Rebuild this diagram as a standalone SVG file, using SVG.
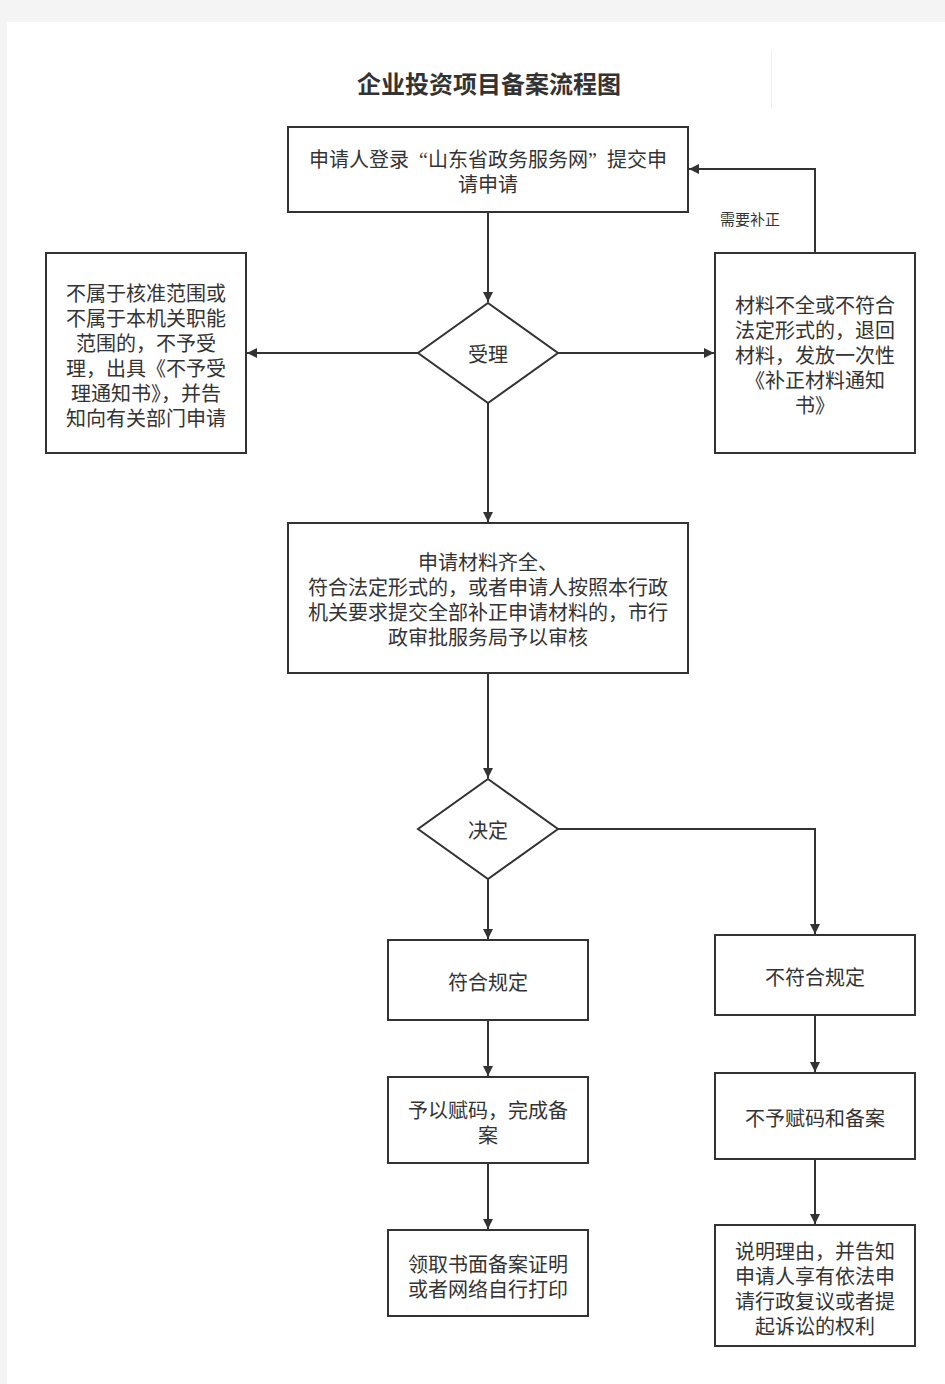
<svg xmlns="http://www.w3.org/2000/svg" width="945" height="1384" viewBox="0 0 945 1384">
<style>
.box{fill:#fff;stroke:#333;stroke-width:2}
.t{font-family:"Liberation Serif","Noto Sans CJK SC",serif;font-size:20px;fill:#333;text-anchor:middle;dominant-baseline:central}
.c{fill:none;stroke:#333;stroke-width:2}
.title{font-family:"Noto Sans CJK SC",sans-serif;font-size:24px;font-weight:bold;fill:#333;text-anchor:middle;dominant-baseline:central}
.lbl{font-family:"Noto Sans CJK SC",sans-serif;font-size:15px;fill:#333;text-anchor:middle;dominant-baseline:central}
</style>
<defs>
<marker id="ah" viewBox="0 0 10 10" refX="10" refY="5" markerWidth="12" markerHeight="10" markerUnits="userSpaceOnUse" orient="auto">
<path d="M0,0 L10,5 L0,10 z" fill="#333"/>
</marker>
</defs>
<rect x="0" y="0" width="945" height="1384" fill="#f4f4f4"/>
<rect x="7" y="22" width="938" height="1362" fill="#fff"/>
<line x1="771.5" y1="50" x2="771.5" y2="108" stroke="#eee" stroke-width="1"/>
<text class="title" x="489" y="82">企业投资项目备案流程图</text>

<g id="connectors">
<path class="c" d="M488,212 V302" marker-end="url(#ah)"/>
<path class="c" d="M418,353 H247" marker-end="url(#ah)"/>
<path class="c" d="M558,353 H714" marker-end="url(#ah)"/>
<path class="c" d="M815,253 V169 H689" marker-end="url(#ah)"/>
<path class="c" d="M488,403 V522" marker-end="url(#ah)"/>
<path class="c" d="M488,673 V778" marker-end="url(#ah)"/>
<path class="c" d="M488,879 V939" marker-end="url(#ah)"/>
<path class="c" d="M558,829 H815 V934" marker-end="url(#ah)"/>
<path class="c" d="M488,1020 V1076" marker-end="url(#ah)"/>
<path class="c" d="M488,1163 V1229" marker-end="url(#ah)"/>
<path class="c" d="M815,1015 V1072" marker-end="url(#ah)"/>
<path class="c" d="M815,1159 V1224" marker-end="url(#ah)"/>
<text class="lbl" x="750" y="218">需要补正</text>
</g>

<g id="n1">
<rect class="box" x="288" y="127" width="400" height="85"/>
<text class="t" x="488" y="160">申请人登录<tspan dx="10">“</tspan>山东省政务服务网”<tspan dx="10">提交申</tspan></text>
<text class="t" x="488" y="185">请申请</text>
</g>
<g id="n2">
<path class="box" d="M488,303 L558,353 L488,403 L418,353 z"/>
<text class="t" x="488" y="355">受理</text>
</g>
<g id="n3">
<rect class="box" x="46" y="253" width="200" height="200"/>
<text class="t" x="146" y="294">不属于核准范围或</text>
<text class="t" x="146" y="319">不属于本机关职能</text>
<text class="t" x="146" y="344">范围的，不予受</text>
<text class="t" x="146" y="369">理，出具《不予受</text>
<text class="t" x="146" y="394">理通知书》，并告</text>
<text class="t" x="146" y="419">知向有关部门申请</text>
</g>
<g id="n4">
<rect class="box" x="715" y="253" width="200" height="200"/>
<text class="t" x="815" y="306">材料不全或不符合</text>
<text class="t" x="815" y="331">法定形式的，退回</text>
<text class="t" x="815" y="356">材料，发放一次性</text>
<text class="t" x="815" y="381">《补正材料通知</text>
<text class="t" x="815" y="406">书》</text>
</g>
<g id="n5">
<rect class="box" x="288" y="523" width="400" height="150"/>
<text class="t" x="488" y="563">申请材料齐全、</text>
<text class="t" x="488" y="588">符合法定形式的，或者申请人按照本行政</text>
<text class="t" x="488" y="613">机关要求提交全部补正申请材料的，市行</text>
<text class="t" x="488" y="638">政审批服务局予以审核</text>
</g>
<g id="n6">
<path class="box" d="M488,779 L558,829 L488,879 L418,829 z"/>
<text class="t" x="488" y="831">决定</text>
</g>
<g id="n7">
<rect class="box" x="388" y="940" width="200" height="80"/>
<text class="t" x="488" y="983">符合规定</text>
</g>
<g id="n8">
<rect class="box" x="715" y="935" width="200" height="80"/>
<text class="t" x="815" y="978">不符合规定</text>
</g>
<g id="n9">
<rect class="box" x="388" y="1077" width="200" height="86"/>
<text class="t" x="488" y="1111">予以赋码，完成备</text>
<text class="t" x="488" y="1136">案</text>
</g>
<g id="n10">
<rect class="box" x="388" y="1230" width="200" height="86"/>
<text class="t" x="488" y="1265">领取书面备案证明</text>
<text class="t" x="488" y="1290">或者网络自行打印</text>
</g>
<g id="n11">
<rect class="box" x="715" y="1073" width="200" height="86"/>
<text class="t" x="815" y="1119">不予赋码和备案</text>
</g>
<g id="n12">
<rect class="box" x="715" y="1225" width="200" height="121"/>
<text class="t" x="815" y="1252">说明理由，并告知</text>
<text class="t" x="815" y="1277">申请人享有依法申</text>
<text class="t" x="815" y="1302">请行政复议或者提</text>
<text class="t" x="815" y="1327">起诉讼的权利</text>
</g>
</svg>
